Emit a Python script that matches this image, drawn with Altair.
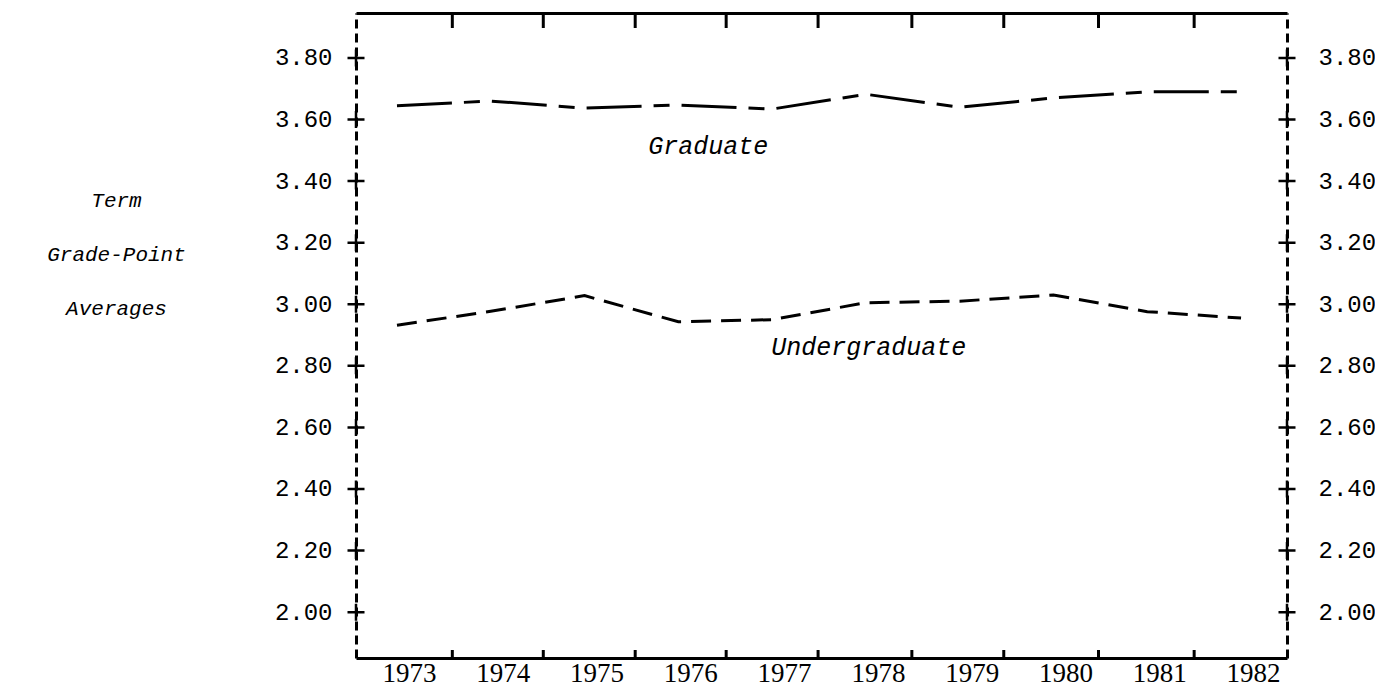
import altair as alt
import pandas as pd

# ---- data ----
years = [1973, 1974, 1975, 1976, 1977, 1978, 1979, 1980, 1981, 1982]
graduate = [3.645, 3.660, 3.637, 3.647, 3.634, 3.682, 3.640, 3.670, 3.690, 3.690]
undergraduate = [2.932, 2.977, 3.028, 2.943, 2.950, 3.005, 3.010, 3.030, 2.976, 2.955]
y_tick_values = [2.0, 2.2, 2.4, 2.6, 2.8, 3.0, 3.2, 3.4, 3.6, 3.8]
x_tick_marks = [1973.59, 1974.56, 1975.54, 1976.51, 1977.49, 1978.49, 1979.47, 1980.48, 1981.50]
title_lines = ["Term", "Grade-Point", "Averages"]
series_names = ["Graduate", "Undergraduate"]
series_label_x = [1976.32, 1978.03]
series_label_y = [3.514, 2.861]

X_DOMAIN = [1972.563, 1982.49]
Y_DOMAIN = [1.851, 3.946]

W, H = 931, 645

grad_df = pd.DataFrame({"year": years, "gpa": graduate})
under_df = pd.DataFrame({"year": years, "gpa": undergraduate})
ytick_df = pd.DataFrame({"v": y_tick_values})
xtick_df = pd.DataFrame({"t": x_tick_marks})
lab_df = pd.DataFrame({"name": series_names, "x": series_label_x, "y": series_label_y})

xs = alt.Scale(domain=X_DOMAIN, nice=False, zero=False)
ys = alt.Scale(domain=Y_DOMAIN, nice=False, zero=False)

MONO = "Liberation Mono"
SERIF = "Liberation Serif"

bottom_axis = alt.Axis(
    orient="bottom", values=years, format="d", title=None, grid=False,
    ticks=False, labelFont=SERIF, labelFontSize=27, labelColor="black",
    labelOffset=12, labelPadding=2, labelFlush=False, labelOverlap=False,
    domainColor="black", domainWidth=3,
)
left_axis = alt.Axis(
    orient="left", values=y_tick_values, format=".2f", grid=False, ticks=False,
    labelFont=MONO, labelFontSize=24, labelColor="black", labelPadding=24,
    labelFlush=False, labelOverlap=False,
    domainColor="black", domainWidth=3, domainDash=[9, 5],
    title=title_lines, titleAngle=0, titleAlign="center", titleBaseline="alphabetic",
    titleX=-240, titleY=193, titleFont=MONO, titleFontStyle="italic",
    titleFontWeight="normal", titleFontSize=21, titleLineHeight=54, titleColor="black",
)
right_axis = alt.Axis(
    orient="right", values=y_tick_values, format=".2f", grid=False, ticks=False,
    labelFont=MONO, labelFontSize=24, labelColor="black", labelPadding=31,
    labelFlush=False, labelOverlap=False,
    domainColor="black", domainWidth=3, domainDash=[9, 5], title=None,
)
top_axis = alt.Axis(
    orient="top", labels=False, ticks=False, grid=False, title=None,
    domainColor="black", domainWidth=3,
)

grad = alt.Chart(grad_df).mark_line(
    color="black", strokeWidth=3, strokeDash=[55, 12, 16, 12]
).encode(
    x=alt.X("year:Q", scale=xs, axis=bottom_axis),
    y=alt.Y("gpa:Q", scale=ys, axis=left_axis),
)

under = alt.Chart(under_df).mark_line(
    color="black", strokeWidth=3, strokeDash=[20, 10]
).encode(
    x=alt.X("year:Q", scale=xs, axis=None),
    y=alt.Y("gpa:Q", scale=ys, axis=None),
)

top_ticks = alt.Chart(xtick_df).mark_rule(color="black", strokeWidth=3).encode(
    x=alt.X("t:Q", scale=xs, axis=top_axis),
    y=alt.value(0),
    y2=alt.value(15),
)

bottom_ticks = alt.Chart(xtick_df).mark_rule(color="black", strokeWidth=3).encode(
    x=alt.X("t:Q", scale=xs, axis=None),
    y=alt.value(H - 8),
    y2=alt.value(H),
)

PLUS = "M-1,0L1,0M0,-1L0,1"
left_plus = alt.Chart(ytick_df).mark_point(
    shape=PLUS, size=289, filled=False, color="black", strokeWidth=2.5, opacity=1
).encode(
    x=alt.value(0),
    y=alt.Y("v:Q", scale=ys, axis=None),
)
right_plus = alt.Chart(ytick_df).mark_point(
    shape=PLUS, size=289, filled=False, color="black", strokeWidth=2.5, opacity=1
).encode(
    x=alt.value(W),
    y=alt.Y("v:Q", scale=ys, axis=right_axis),
)

labels = alt.Chart(lab_df).mark_text(
    font=MONO, fontStyle="italic", fontSize=25, color="black"
).encode(
    x=alt.X("x:Q", scale=xs, axis=None),
    y=alt.Y("y:Q", scale=ys, axis=None),
    text="name:N",
)

chart = alt.layer(
    grad, under, top_ticks, bottom_ticks, left_plus, right_plus, labels
).resolve_axis(
    x="independent", y="independent"
).properties(
    width=W, height=H,
    padding={"left": 348, "top": 5, "right": 88, "bottom": 26},
    autosize=alt.AutoSizeParams(type="none"),
    background="white",
).configure_view(stroke=None)

chart.save("out.html", embed_options={"renderer": "svg", "actions": False})
